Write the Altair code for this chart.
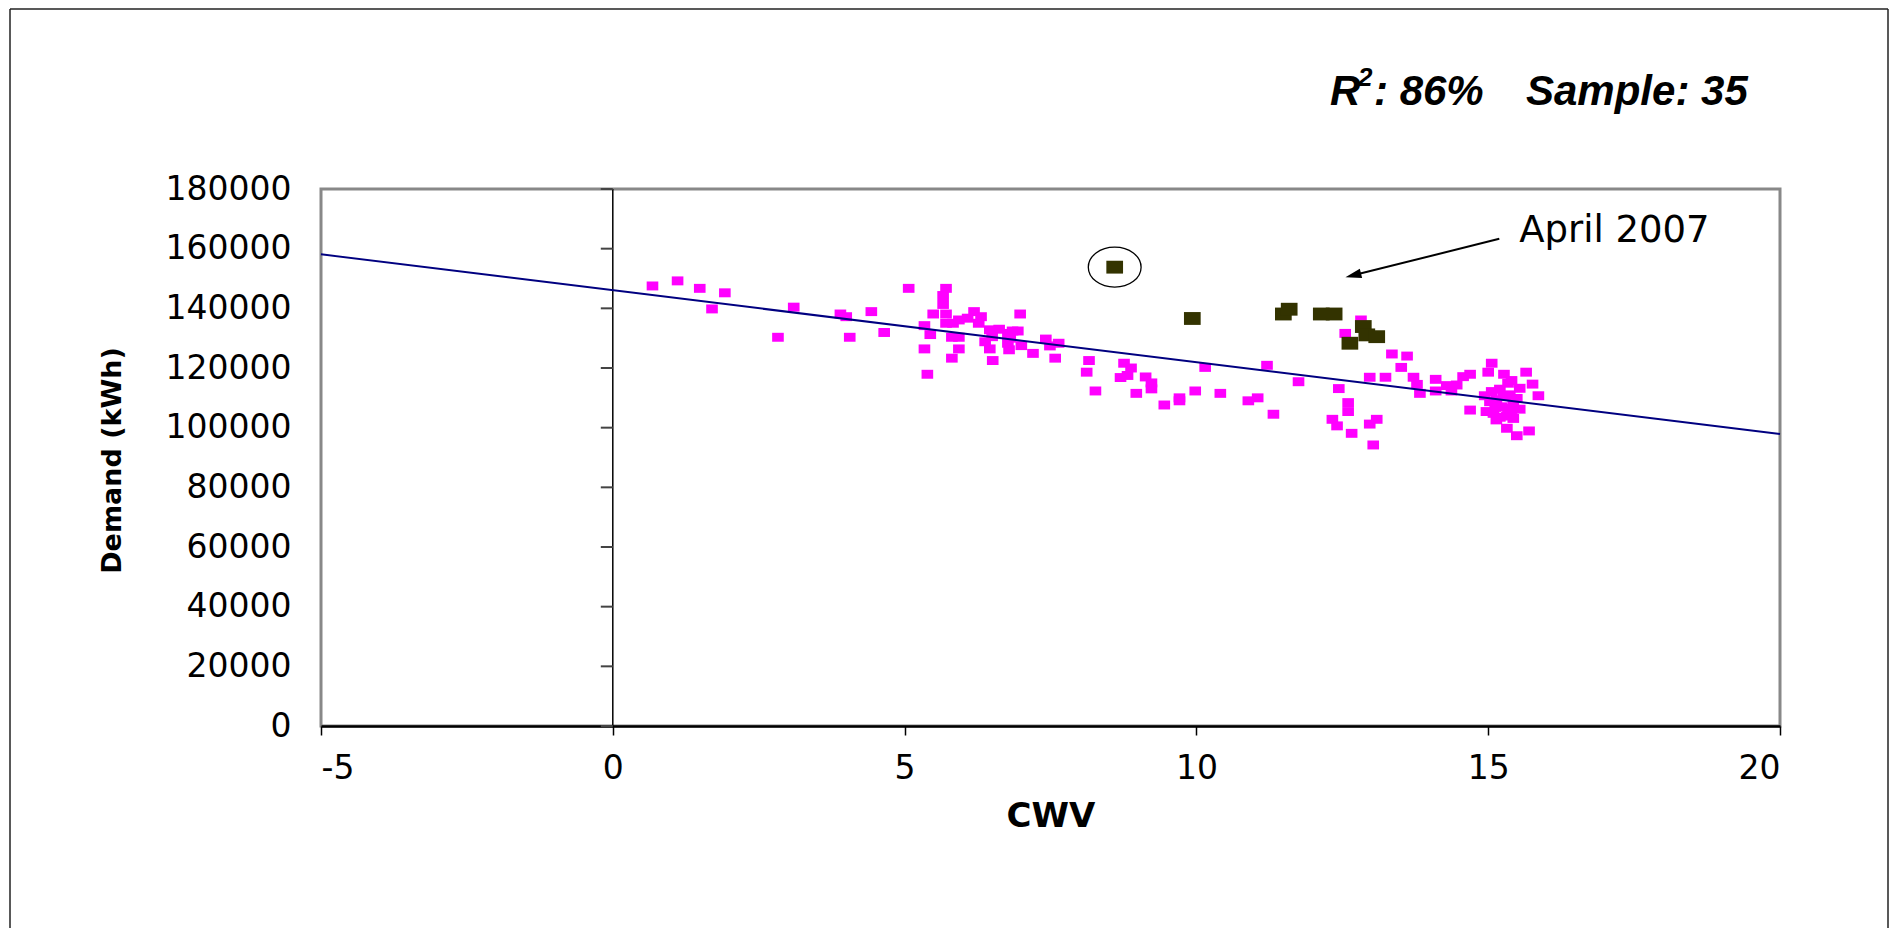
import altair as alt
import pandas as pd

# ---- data ----
pink_x = [0.68, 1.11, 1.49, 1.92, 1.70, 2.83, 3.10, 3.90, 4.00, 4.06, 4.43, 4.65, 5.07, 5.34, 5.44,
          5.34, 5.39, 5.71, 5.66, 5.66, 5.49, 5.71, 5.71, 5.83, 5.93, 6.08, 6.19, 6.31, 6.27, 5.81,
          5.93, 5.93, 5.81, 6.46, 6.50, 6.38, 6.46, 6.51, 6.62,
          6.98, 6.85, 6.94, 6.77, 6.81, 6.77, 7.00, 6.79, 7.20, 7.42, 7.49, 7.64, 7.58, 8.16, 8.12,
          8.27, 8.76, 8.88, 8.70, 8.82, 9.13, 9.23, 9.23, 8.97, 9.45, 9.71, 9.71, 9.98, 10.15, 10.41,
          10.89, 11.05, 11.21, 11.32, 11.75,
          12.82, 12.55, 13.35, 13.61, 13.51, 12.97, 13.24, 12.44, 13.72, 13.78, 13.83, 14.10, 14.10,
          14.29, 14.37, 14.46, 14.57, 14.69, 12.60, 12.60, 12.33, 12.41, 12.66, 12.97, 13.09, 13.03,
          15.06, 15.00, 15.27, 15.65, 15.76, 15.86, 14.69, 15.70, 15.49,
          14.94, 15.06, 15.20, 15.34, 15.40, 15.54, 15.03, 15.14, 15.26, 15.37, 15.43, 15.54, 14.97,
          15.09, 15.20, 15.32, 15.43, 15.14, 15.32, 15.40, 15.49, 15.23, 15.12, 15.34]
pink_y = [147500, 149200, 146700, 145200, 139800, 130300, 140400, 138100, 137200, 130300, 138900, 131900, 146700, 134200, 131200,
          126400, 117900, 146700, 144300, 141300, 138100, 138100, 135000, 135000, 136100, 136700, 138900, 137200, 135000, 130300,
          130300, 126400, 123300, 132800, 130500, 128800, 126400, 122500, 133000,
          138100, 132400, 132400, 131600, 130000, 128300, 127500, 126100, 124900, 129700, 127400, 128300, 123300, 122500, 118600,
          112300, 121600, 120000, 116800, 117500, 117000, 115000, 113000, 111500, 107600, 110000, 109000, 112300, 120200, 111500,
          109000, 110000, 120900, 104500, 115400,
          136100, 131600, 124700, 124000, 120200, 116900, 116900, 113100, 116900, 114500, 111500, 116200, 112300,
          114100, 112300, 114300, 117100, 117900, 108400, 105400, 102800, 100600, 98100, 101200, 102800, 94200,
          121600, 118600, 117900, 118600, 114600, 110700, 105900, 98900, 97300,
          110700, 112100, 112900, 114900, 115800, 113200, 108700, 109300, 110400, 111000, 108200, 106200, 105400,
          104800, 103500, 103900, 103100, 102600, 99800, 105400, 109800, 107000, 106800, 106500]

dark_x = [8.60, 9.93, 11.49, 11.59, 12.14, 12.36, 12.86, 12.63, 12.92, 13.09]
dark_y = [153800, 136600, 138100, 139700, 138100, 138100, 133900, 128300, 131100, 130500]

trend_x = [-5, 20]
trend_y = [158100, 97900]

circled_x = [8.60]
circled_y = [153800]

arrow_x = [15.19]
arrow_y = [163300]
arrow_x2 = [12.687]
arrow_y2 = [151060]

label_x = [15.53]
label_y = [162400]
label_text = ["April 2007"]

y_ticks = [0, 20000, 40000, 60000, 80000, 100000, 120000, 140000, 160000, 180000]
x_ticks = [-5, 0, 5, 10, 15, 20]

W, H = 1459, 537
PAD = {"left": 313, "top": 181, "right": 110, "bottom": 202}

xs = alt.Scale(domain=[-5, 20], nice=False, zero=False)
ys = alt.Scale(domain=[0, 180000], nice=False, zero=False)

xaxis = alt.Axis(values=x_ticks, labelExpr="'' + datum.value", title="CWV", grid=False,
                 domainColor="black", domainWidth=2.5,
                 tickColor="black", tickSize=9, tickWidth=1.5, labelFont="DejaVu Sans",
                 labelFontSize=33, labelColor="black", labelPadding=17,
                 titleFont="DejaVu Sans", titleFontWeight="bold", titleFontSize=34,
                 titleColor="black", titleBaseline="alphabetic", titleY=100)
yaxis = alt.Axis(values=y_ticks, format="d", title="Demand (kWh)", grid=False, domain=False,
                 ticks=False, labelFont="DejaVu Sans", labelFontSize=33, labelColor="black",
                 labelPadding=30, titleFont="DejaVu Sans", titleFontWeight="bold",
                 titleFontSize=27, titleColor="black", titleAngle=-90, titleAlign="center",
                 titleBaseline="alphabetic", titleX=-201, titleY=271)

SQ = "M-1.3,-1L1.3,-1L1.3,1L-1.3,1Z"
ELL = "M-1.32,0A1.32,1,0,1,1,1.32,0A1.32,1,0,1,1,-1.32,0Z"
HEAD = "M0,-1L0.6,1L-0.6,1Z"

pink_df = pd.DataFrame({"x": pink_x, "y": pink_y})
dark_df = pd.DataFrame({"x": dark_x, "y": dark_y})
trend_df = pd.DataFrame({"x": trend_x, "y": trend_y})
tick_df = pd.DataFrame({"x": [0] * len(y_ticks), "y": y_ticks})
zero_df = pd.DataFrame({"x": [0]})

pink = alt.Chart(pink_df).mark_point(shape=SQ, filled=True, size=80, color="#FF00FF", opacity=1).encode(
    x=alt.X("x:Q", scale=xs, axis=xaxis),
    y=alt.Y("y:Q", scale=ys, axis=yaxis),
)

zero_line = alt.Chart(zero_df).mark_rule(color="black", strokeWidth=1.5).encode(
    x=alt.X("x:Q", scale=xs)
)

yticks_marks = alt.Chart(tick_df).mark_rule(color="#444444", strokeWidth=2, x2Offset=-12).encode(
    x=alt.X("x:Q", scale=xs), x2="x:Q", y=alt.Y("y:Q", scale=ys)
)

dark = alt.Chart(dark_df).mark_point(shape=SQ, filled=True, size=165, color="#333300", opacity=1).encode(
    x=alt.X("x:Q", scale=xs), y=alt.Y("y:Q", scale=ys)
)

trend = alt.Chart(trend_df).mark_line(color="#000080", strokeWidth=2).encode(
    x=alt.X("x:Q", scale=xs), y=alt.Y("y:Q", scale=ys)
)

circ = alt.Chart(pd.DataFrame({"x": circled_x, "y": circled_y})).mark_point(
    shape=ELL, size=1600, filled=False, color="black", strokeWidth=1.3, opacity=1
).encode(x=alt.X("x:Q", scale=xs), y=alt.Y("y:Q", scale=ys))

arrow_df = pd.DataFrame({"x": arrow_x, "y": arrow_y, "x2": arrow_x2, "y2": arrow_y2})
arrow_line = alt.Chart(arrow_df).mark_rule(color="black", strokeWidth=2).encode(
    x=alt.X("x:Q", scale=xs), y=alt.Y("y:Q", scale=ys), x2="x2:Q", y2="y2:Q"
)
arrow_head = alt.Chart(arrow_df).mark_point(
    shape=HEAD, size=256, filled=True, color="black", angle=256, opacity=1
).encode(x=alt.X("x2:Q", scale=xs), y=alt.Y("y2:Q", scale=ys))

label = alt.Chart(pd.DataFrame({"x": label_x, "y": label_y, "t": label_text})).mark_text(
    align="left", baseline="alphabetic", font="DejaVu Sans", fontSize=37, color="black"
).encode(x=alt.X("x:Q", scale=xs), y=alt.Y("y:Q", scale=ys), text="t:N")

# R² / Sample annotation (pixel positions relative to plot area)
def txt(s, px, py, size):
    return alt.Chart(pd.DataFrame({"t": [s]})).mark_text(
        align="left", baseline="alphabetic", font="Liberation Sans", fontSize=size,
        fontWeight="bold", fontStyle="italic", color="black"
    ).encode(x=alt.value(px), y=alt.value(py), text="t:N")

r_txt = txt("R", 1009, -84, 42)
sup_txt = txt("2", 1037, -103, 26)
r2_txt = txt(": 86%", 1053, -84, 42)
samp_txt = txt("Sample: 35", 1205, -84, 42)

# outer chart-area frame
frame_df = pd.DataFrame({"k": [0]})
left_frame = alt.Chart(frame_df).mark_rule(color="#222222", strokeWidth=1.5).encode(
    x=alt.value(-311), y=alt.value(-180), y2=alt.value(H + 210)
)
top_frame = alt.Chart(frame_df).mark_rule(color="#222222", strokeWidth=1.5).encode(
    x=alt.value(-311), x2=alt.value(1567), y=alt.value(-180)
)
right_frame = alt.Chart(frame_df).mark_rule(color="#222222", strokeWidth=1.5).encode(
    x=alt.value(1567), y=alt.value(-180), y2=alt.value(H + 210)
)

chart = alt.layer(
    pink, zero_line, yticks_marks, dark, trend, circ, arrow_line, arrow_head, label,
    r_txt, sup_txt, r2_txt, samp_txt, left_frame, top_frame, right_frame
).properties(
    width=W, height=H, autosize=alt.AutoSizeParams(type="none"), padding=PAD,
    background="white"
).configure_view(stroke="#888888", strokeWidth=3)

chart.save("out.html", embed_options={"renderer": "svg", "actions": False})
